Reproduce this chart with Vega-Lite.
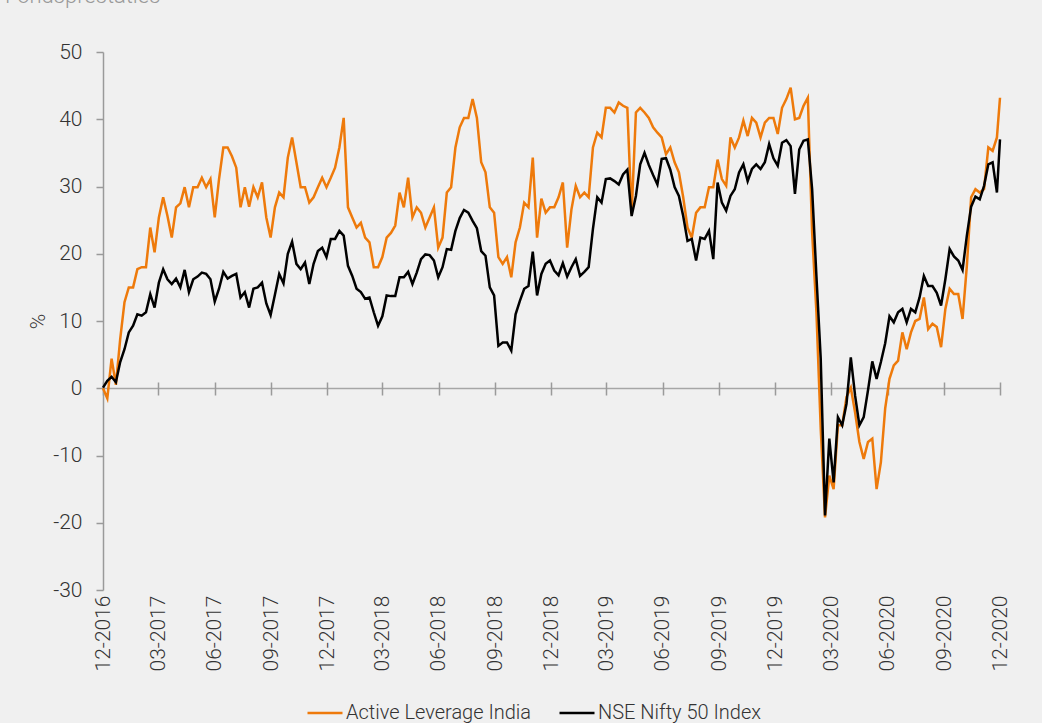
{
  "$schema": "https://vega.github.io/schema/vega-lite/v6.json",
  "width": 897,
  "height": 538,
  "autosize": {"type": "none"},
  "padding": {"left": 103, "top": 52, "right": 42, "bottom": 133},
  "background": "#f0f0f0",
  "title": {"text": "Fondsprestaties", "anchor": "start", "frame": "group", "dx": -98, "dy": -29, "fontSize": 22, "fontWeight": 300, "color": "#9a9a9a"},
  "config": {
    "view": {"stroke": null},
    "font": "Roboto, sans-serif"
  },
  "data": {"values": [
{"date":"2016-12-01","Active Leverage India":0,"NSE Nifty 50 Index":0.1},
{"date":"2016-12-08","Active Leverage India":-1.5,"NSE Nifty 50 Index":1.1},
{"date":"2016-12-15","Active Leverage India":4.4,"NSE Nifty 50 Index":1.7},
{"date":"2016-12-22","Active Leverage India":0.5,"NSE Nifty 50 Index":0.9},
{"date":"2016-12-29","Active Leverage India":7.3,"NSE Nifty 50 Index":3.9},
{"date":"2017-01-05","Active Leverage India":12.8,"NSE Nifty 50 Index":5.8},
{"date":"2017-01-12","Active Leverage India":15,"NSE Nifty 50 Index":8.3},
{"date":"2017-01-19","Active Leverage India":15,"NSE Nifty 50 Index":9.3},
{"date":"2017-01-26","Active Leverage India":17.7,"NSE Nifty 50 Index":11},
{"date":"2017-02-02","Active Leverage India":18,"NSE Nifty 50 Index":10.8},
{"date":"2017-02-09","Active Leverage India":18,"NSE Nifty 50 Index":11.3},
{"date":"2017-02-16","Active Leverage India":23.9,"NSE Nifty 50 Index":14},
{"date":"2017-02-23","Active Leverage India":20.2,"NSE Nifty 50 Index":12},
{"date":"2017-03-02","Active Leverage India":25.4,"NSE Nifty 50 Index":15.7},
{"date":"2017-03-09","Active Leverage India":28.4,"NSE Nifty 50 Index":17.7},
{"date":"2017-03-16","Active Leverage India":25.6,"NSE Nifty 50 Index":16.2},
{"date":"2017-03-23","Active Leverage India":22.4,"NSE Nifty 50 Index":15.5},
{"date":"2017-03-30","Active Leverage India":26.9,"NSE Nifty 50 Index":16.3},
{"date":"2017-04-06","Active Leverage India":27.5,"NSE Nifty 50 Index":15},
{"date":"2017-04-13","Active Leverage India":29.9,"NSE Nifty 50 Index":17.6},
{"date":"2017-04-20","Active Leverage India":26.9,"NSE Nifty 50 Index":14.3},
{"date":"2017-04-27","Active Leverage India":29.9,"NSE Nifty 50 Index":16.2},
{"date":"2017-05-04","Active Leverage India":29.9,"NSE Nifty 50 Index":16.6},
{"date":"2017-05-11","Active Leverage India":31.3,"NSE Nifty 50 Index":17.2},
{"date":"2017-05-18","Active Leverage India":29.9,"NSE Nifty 50 Index":17},
{"date":"2017-05-25","Active Leverage India":31.1,"NSE Nifty 50 Index":16.2},
{"date":"2017-06-01","Active Leverage India":25.4,"NSE Nifty 50 Index":12.9},
{"date":"2017-06-08","Active Leverage India":31.1,"NSE Nifty 50 Index":14.8},
{"date":"2017-06-15","Active Leverage India":35.8,"NSE Nifty 50 Index":17.3},
{"date":"2017-06-22","Active Leverage India":35.8,"NSE Nifty 50 Index":16.3},
{"date":"2017-06-29","Active Leverage India":34.5,"NSE Nifty 50 Index":16.7},
{"date":"2017-07-06","Active Leverage India":32.8,"NSE Nifty 50 Index":17},
{"date":"2017-07-13","Active Leverage India":26.9,"NSE Nifty 50 Index":13.5},
{"date":"2017-07-20","Active Leverage India":29.9,"NSE Nifty 50 Index":14.3},
{"date":"2017-07-27","Active Leverage India":27,"NSE Nifty 50 Index":12},
{"date":"2017-08-03","Active Leverage India":29.9,"NSE Nifty 50 Index":14.8},
{"date":"2017-08-10","Active Leverage India":28.4,"NSE Nifty 50 Index":15},
{"date":"2017-08-17","Active Leverage India":30.6,"NSE Nifty 50 Index":15.7},
{"date":"2017-08-24","Active Leverage India":25.4,"NSE Nifty 50 Index":12.6},
{"date":"2017-08-31","Active Leverage India":22.4,"NSE Nifty 50 Index":10.9},
{"date":"2017-09-07","Active Leverage India":26.9,"NSE Nifty 50 Index":13.9},
{"date":"2017-09-14","Active Leverage India":29.1,"NSE Nifty 50 Index":17},
{"date":"2017-09-21","Active Leverage India":28.4,"NSE Nifty 50 Index":15.6},
{"date":"2017-09-28","Active Leverage India":34.3,"NSE Nifty 50 Index":20},
{"date":"2017-10-05","Active Leverage India":37.3,"NSE Nifty 50 Index":21.8},
{"date":"2017-10-12","Active Leverage India":33.6,"NSE Nifty 50 Index":18.5},
{"date":"2017-10-19","Active Leverage India":29.9,"NSE Nifty 50 Index":17.7},
{"date":"2017-10-26","Active Leverage India":29.9,"NSE Nifty 50 Index":18.7},
{"date":"2017-11-02","Active Leverage India":27.6,"NSE Nifty 50 Index":15.5},
{"date":"2017-11-09","Active Leverage India":28.4,"NSE Nifty 50 Index":18.5},
{"date":"2017-11-16","Active Leverage India":29.9,"NSE Nifty 50 Index":20.4},
{"date":"2017-11-23","Active Leverage India":31.3,"NSE Nifty 50 Index":20.9},
{"date":"2017-11-30","Active Leverage India":29.9,"NSE Nifty 50 Index":19.5},
{"date":"2017-12-07","Active Leverage India":31.3,"NSE Nifty 50 Index":22.2},
{"date":"2017-12-14","Active Leverage India":32.8,"NSE Nifty 50 Index":22.2},
{"date":"2017-12-21","Active Leverage India":35.8,"NSE Nifty 50 Index":23.4},
{"date":"2017-12-28","Active Leverage India":40.2,"NSE Nifty 50 Index":22.7},
{"date":"2018-01-04","Active Leverage India":26.9,"NSE Nifty 50 Index":18.2},
{"date":"2018-01-11","Active Leverage India":25.4,"NSE Nifty 50 Index":16.7},
{"date":"2018-01-18","Active Leverage India":23.9,"NSE Nifty 50 Index":14.8},
{"date":"2018-01-25","Active Leverage India":24.6,"NSE Nifty 50 Index":14.3},
{"date":"2018-02-01","Active Leverage India":22.4,"NSE Nifty 50 Index":13.3},
{"date":"2018-02-08","Active Leverage India":21.7,"NSE Nifty 50 Index":13.5},
{"date":"2018-02-15","Active Leverage India":18,"NSE Nifty 50 Index":11.3},
{"date":"2018-02-22","Active Leverage India":18,"NSE Nifty 50 Index":9.3},
{"date":"2018-03-01","Active Leverage India":19.5,"NSE Nifty 50 Index":10.7},
{"date":"2018-03-08","Active Leverage India":22.4,"NSE Nifty 50 Index":13.8},
{"date":"2018-03-15","Active Leverage India":23.1,"NSE Nifty 50 Index":13.7},
{"date":"2018-03-22","Active Leverage India":24.2,"NSE Nifty 50 Index":13.7},
{"date":"2018-03-29","Active Leverage India":29.1,"NSE Nifty 50 Index":16.5},
{"date":"2018-04-05","Active Leverage India":26.9,"NSE Nifty 50 Index":16.5},
{"date":"2018-04-12","Active Leverage India":31.3,"NSE Nifty 50 Index":17.3},
{"date":"2018-04-19","Active Leverage India":25.4,"NSE Nifty 50 Index":15.5},
{"date":"2018-04-26","Active Leverage India":26.9,"NSE Nifty 50 Index":17.2},
{"date":"2018-05-03","Active Leverage India":26.1,"NSE Nifty 50 Index":19.2},
{"date":"2018-05-10","Active Leverage India":23.9,"NSE Nifty 50 Index":19.9},
{"date":"2018-05-17","Active Leverage India":25.4,"NSE Nifty 50 Index":19.8},
{"date":"2018-05-24","Active Leverage India":26.9,"NSE Nifty 50 Index":19},
{"date":"2018-05-31","Active Leverage India":20.9,"NSE Nifty 50 Index":16.5},
{"date":"2018-06-07","Active Leverage India":22.4,"NSE Nifty 50 Index":18},
{"date":"2018-06-14","Active Leverage India":29.1,"NSE Nifty 50 Index":20.7},
{"date":"2018-06-21","Active Leverage India":29.9,"NSE Nifty 50 Index":20.6},
{"date":"2018-06-28","Active Leverage India":35.8,"NSE Nifty 50 Index":23.4},
{"date":"2018-07-05","Active Leverage India":38.8,"NSE Nifty 50 Index":25.3},
{"date":"2018-07-12","Active Leverage India":40.2,"NSE Nifty 50 Index":26.5},
{"date":"2018-07-19","Active Leverage India":40.2,"NSE Nifty 50 Index":26.1},
{"date":"2018-07-26","Active Leverage India":43,"NSE Nifty 50 Index":24.9},
{"date":"2018-08-02","Active Leverage India":40.2,"NSE Nifty 50 Index":23.8},
{"date":"2018-08-09","Active Leverage India":33.6,"NSE Nifty 50 Index":20.4},
{"date":"2018-08-16","Active Leverage India":32.1,"NSE Nifty 50 Index":19.7},
{"date":"2018-08-23","Active Leverage India":26.9,"NSE Nifty 50 Index":15},
{"date":"2018-08-30","Active Leverage India":26.1,"NSE Nifty 50 Index":13.8},
{"date":"2018-09-06","Active Leverage India":19.5,"NSE Nifty 50 Index":6.3},
{"date":"2018-09-13","Active Leverage India":18.5,"NSE Nifty 50 Index":6.8},
{"date":"2018-09-20","Active Leverage India":19.5,"NSE Nifty 50 Index":6.8},
{"date":"2018-09-27","Active Leverage India":16.5,"NSE Nifty 50 Index":5.6},
{"date":"2018-10-04","Active Leverage India":21.7,"NSE Nifty 50 Index":11},
{"date":"2018-10-11","Active Leverage India":23.9,"NSE Nifty 50 Index":13},
{"date":"2018-10-18","Active Leverage India":27.6,"NSE Nifty 50 Index":14.8},
{"date":"2018-10-25","Active Leverage India":26.9,"NSE Nifty 50 Index":15.2},
{"date":"2018-11-01","Active Leverage India":34.3,"NSE Nifty 50 Index":20.3},
{"date":"2018-11-08","Active Leverage India":22.4,"NSE Nifty 50 Index":13.8},
{"date":"2018-11-15","Active Leverage India":28.2,"NSE Nifty 50 Index":17},
{"date":"2018-11-22","Active Leverage India":26.1,"NSE Nifty 50 Index":18.5},
{"date":"2018-11-29","Active Leverage India":26.9,"NSE Nifty 50 Index":19},
{"date":"2018-12-06","Active Leverage India":26.9,"NSE Nifty 50 Index":17.5},
{"date":"2018-12-13","Active Leverage India":28.4,"NSE Nifty 50 Index":16.8},
{"date":"2018-12-20","Active Leverage India":30.6,"NSE Nifty 50 Index":18.6},
{"date":"2018-12-27","Active Leverage India":20.9,"NSE Nifty 50 Index":16.6},
{"date":"2019-01-03","Active Leverage India":26.6,"NSE Nifty 50 Index":18},
{"date":"2019-01-10","Active Leverage India":30.1,"NSE Nifty 50 Index":19.2},
{"date":"2019-01-17","Active Leverage India":28.4,"NSE Nifty 50 Index":16.7},
{"date":"2019-01-24","Active Leverage India":29.1,"NSE Nifty 50 Index":17.3},
{"date":"2019-01-31","Active Leverage India":28.4,"NSE Nifty 50 Index":18},
{"date":"2019-02-07","Active Leverage India":35.8,"NSE Nifty 50 Index":23.7},
{"date":"2019-02-14","Active Leverage India":38,"NSE Nifty 50 Index":28.4},
{"date":"2019-02-21","Active Leverage India":37.3,"NSE Nifty 50 Index":27.6},
{"date":"2019-02-28","Active Leverage India":41.7,"NSE Nifty 50 Index":31.1},
{"date":"2019-03-07","Active Leverage India":41.7,"NSE Nifty 50 Index":31.2},
{"date":"2019-03-14","Active Leverage India":41,"NSE Nifty 50 Index":30.8},
{"date":"2019-03-21","Active Leverage India":42.5,"NSE Nifty 50 Index":30.3},
{"date":"2019-03-28","Active Leverage India":42,"NSE Nifty 50 Index":31.8},
{"date":"2019-04-04","Active Leverage India":41.7,"NSE Nifty 50 Index":32.5},
{"date":"2019-04-11","Active Leverage India":25.9,"NSE Nifty 50 Index":25.6},
{"date":"2019-04-18","Active Leverage India":41,"NSE Nifty 50 Index":28.6},
{"date":"2019-04-25","Active Leverage India":41.7,"NSE Nifty 50 Index":33.3},
{"date":"2019-05-02","Active Leverage India":41,"NSE Nifty 50 Index":35},
{"date":"2019-05-09","Active Leverage India":40.2,"NSE Nifty 50 Index":33.2},
{"date":"2019-05-16","Active Leverage India":38.8,"NSE Nifty 50 Index":31.7},
{"date":"2019-05-23","Active Leverage India":38,"NSE Nifty 50 Index":30.3},
{"date":"2019-05-30","Active Leverage India":37.3,"NSE Nifty 50 Index":34.1},
{"date":"2019-06-06","Active Leverage India":34.8,"NSE Nifty 50 Index":34.2},
{"date":"2019-06-13","Active Leverage India":35.8,"NSE Nifty 50 Index":32.5},
{"date":"2019-06-20","Active Leverage India":33.6,"NSE Nifty 50 Index":29.9},
{"date":"2019-06-27","Active Leverage India":32.1,"NSE Nifty 50 Index":28.6},
{"date":"2019-07-04","Active Leverage India":28.4,"NSE Nifty 50 Index":25.6},
{"date":"2019-07-11","Active Leverage India":23.9,"NSE Nifty 50 Index":21.9},
{"date":"2019-07-18","Active Leverage India":22.4,"NSE Nifty 50 Index":22.2},
{"date":"2019-07-25","Active Leverage India":26.1,"NSE Nifty 50 Index":19},
{"date":"2019-08-01","Active Leverage India":26.9,"NSE Nifty 50 Index":22.4},
{"date":"2019-08-08","Active Leverage India":26.9,"NSE Nifty 50 Index":22.2},
{"date":"2019-08-15","Active Leverage India":29.9,"NSE Nifty 50 Index":23.4},
{"date":"2019-08-22","Active Leverage India":29.9,"NSE Nifty 50 Index":19.2},
{"date":"2019-08-29","Active Leverage India":34,"NSE Nifty 50 Index":30.6},
{"date":"2019-09-05","Active Leverage India":31.1,"NSE Nifty 50 Index":27.6},
{"date":"2019-09-12","Active Leverage India":30.1,"NSE Nifty 50 Index":26.4},
{"date":"2019-09-19","Active Leverage India":37.3,"NSE Nifty 50 Index":28.6},
{"date":"2019-09-26","Active Leverage India":35.8,"NSE Nifty 50 Index":29.6},
{"date":"2019-10-03","Active Leverage India":37.3,"NSE Nifty 50 Index":32.1},
{"date":"2019-10-10","Active Leverage India":39.8,"NSE Nifty 50 Index":33.3},
{"date":"2019-10-17","Active Leverage India":37.5,"NSE Nifty 50 Index":30.8},
{"date":"2019-10-24","Active Leverage India":40.2,"NSE Nifty 50 Index":32.6},
{"date":"2019-10-31","Active Leverage India":39.5,"NSE Nifty 50 Index":33.3},
{"date":"2019-11-07","Active Leverage India":37.3,"NSE Nifty 50 Index":32.6},
{"date":"2019-11-14","Active Leverage India":39.5,"NSE Nifty 50 Index":33.6},
{"date":"2019-11-21","Active Leverage India":40.2,"NSE Nifty 50 Index":36.3},
{"date":"2019-11-28","Active Leverage India":40.2,"NSE Nifty 50 Index":34.2},
{"date":"2019-12-05","Active Leverage India":37.8,"NSE Nifty 50 Index":33.1},
{"date":"2019-12-12","Active Leverage India":41.7,"NSE Nifty 50 Index":36.5},
{"date":"2019-12-19","Active Leverage India":43,"NSE Nifty 50 Index":36.9},
{"date":"2019-12-26","Active Leverage India":44.7,"NSE Nifty 50 Index":36},
{"date":"2020-01-02","Active Leverage India":40,"NSE Nifty 50 Index":28.9},
{"date":"2020-01-09","Active Leverage India":40.2,"NSE Nifty 50 Index":35.5},
{"date":"2020-01-16","Active Leverage India":42,"NSE Nifty 50 Index":36.8},
{"date":"2020-01-23","Active Leverage India":43.2,"NSE Nifty 50 Index":37},
{"date":"2020-01-30","Active Leverage India":23.2,"NSE Nifty 50 Index":29.6},
{"date":"2020-02-06","Active Leverage India":11.3,"NSE Nifty 50 Index":16.7},
{"date":"2020-02-13","Active Leverage India":-6,"NSE Nifty 50 Index":4.4},
{"date":"2020-02-20","Active Leverage India":-19.2,"NSE Nifty 50 Index":-18.9},
{"date":"2020-02-27","Active Leverage India":-13,"NSE Nifty 50 Index":-7.5},
{"date":"2020-03-05","Active Leverage India":-15,"NSE Nifty 50 Index":-14},
{"date":"2020-03-12","Active Leverage India":-5.5,"NSE Nifty 50 Index":-4.3},
{"date":"2020-03-19","Active Leverage India":-5.5,"NSE Nifty 50 Index":-5.5},
{"date":"2020-03-26","Active Leverage India":-1.3,"NSE Nifty 50 Index":-2.3},
{"date":"2020-04-02","Active Leverage India":0.1,"NSE Nifty 50 Index":4.6},
{"date":"2020-04-09","Active Leverage India":-3.6,"NSE Nifty 50 Index":-1.1},
{"date":"2020-04-16","Active Leverage India":-8,"NSE Nifty 50 Index":-5.5},
{"date":"2020-04-23","Active Leverage India":-10.5,"NSE Nifty 50 Index":-4.3},
{"date":"2020-04-30","Active Leverage India":-8,"NSE Nifty 50 Index":-0.3},
{"date":"2020-05-07","Active Leverage India":-7.5,"NSE Nifty 50 Index":4},
{"date":"2020-05-14","Active Leverage India":-15,"NSE Nifty 50 Index":1.4},
{"date":"2020-05-21","Active Leverage India":-11,"NSE Nifty 50 Index":3.9},
{"date":"2020-05-28","Active Leverage India":-3,"NSE Nifty 50 Index":6.7},
{"date":"2020-06-04","Active Leverage India":1.4,"NSE Nifty 50 Index":10.7},
{"date":"2020-06-11","Active Leverage India":3.4,"NSE Nifty 50 Index":9.8},
{"date":"2020-06-18","Active Leverage India":4.1,"NSE Nifty 50 Index":11.3},
{"date":"2020-06-25","Active Leverage India":8.3,"NSE Nifty 50 Index":11.8},
{"date":"2020-07-02","Active Leverage India":5.8,"NSE Nifty 50 Index":9.8},
{"date":"2020-07-09","Active Leverage India":8.3,"NSE Nifty 50 Index":11.8},
{"date":"2020-07-16","Active Leverage India":10,"NSE Nifty 50 Index":11.3},
{"date":"2020-07-23","Active Leverage India":10.3,"NSE Nifty 50 Index":13.5},
{"date":"2020-07-30","Active Leverage India":13.5,"NSE Nifty 50 Index":16.7},
{"date":"2020-08-06","Active Leverage India":8.8,"NSE Nifty 50 Index":15.2},
{"date":"2020-08-13","Active Leverage India":9.6,"NSE Nifty 50 Index":15.2},
{"date":"2020-08-20","Active Leverage India":9.1,"NSE Nifty 50 Index":14.2},
{"date":"2020-08-27","Active Leverage India":6.1,"NSE Nifty 50 Index":12.3},
{"date":"2020-09-03","Active Leverage India":11.8,"NSE Nifty 50 Index":16.2},
{"date":"2020-09-10","Active Leverage India":14.8,"NSE Nifty 50 Index":20.7},
{"date":"2020-09-17","Active Leverage India":14,"NSE Nifty 50 Index":19.6},
{"date":"2020-09-24","Active Leverage India":14,"NSE Nifty 50 Index":19},
{"date":"2020-10-01","Active Leverage India":10.3,"NSE Nifty 50 Index":17.6},
{"date":"2020-10-08","Active Leverage India":18.2,"NSE Nifty 50 Index":22.7},
{"date":"2020-10-15","Active Leverage India":28.4,"NSE Nifty 50 Index":27},
{"date":"2020-10-22","Active Leverage India":29.6,"NSE Nifty 50 Index":28.5},
{"date":"2020-10-29","Active Leverage India":29.1,"NSE Nifty 50 Index":28.1},
{"date":"2020-11-05","Active Leverage India":29.6,"NSE Nifty 50 Index":30.1},
{"date":"2020-11-12","Active Leverage India":35.8,"NSE Nifty 50 Index":33.3},
{"date":"2020-11-19","Active Leverage India":35.3,"NSE Nifty 50 Index":33.6},
{"date":"2020-11-26","Active Leverage India":37.3,"NSE Nifty 50 Index":29.1},
{"date":"2020-12-01","Active Leverage India":43.2,"NSE Nifty 50 Index":37}
  ]},
  "transform": [{"fold": ["Active Leverage India", "NSE Nifty 50 Index"], "as": ["series", "value"]}],
  "mark": {"type": "line", "strokeWidth": 2.5},
  "encoding": {
    "x": {
      "field": "date", "type": "temporal",
      "scale": {"type": "utc", "domain": [{"year": 2016, "month": 12, "date": 1, "utc": true}, {"year": 2020, "month": 12, "date": 1, "utc": true}]},
      "axis": {
        "values": [
          {"year": 2016, "month": 12, "date": 1, "utc": true},
          {"year": 2017, "month": 3, "date": 1, "utc": true},
          {"year": 2017, "month": 6, "date": 1, "utc": true},
          {"year": 2017, "month": 9, "date": 1, "utc": true},
          {"year": 2017, "month": 12, "date": 1, "utc": true},
          {"year": 2018, "month": 3, "date": 1, "utc": true},
          {"year": 2018, "month": 6, "date": 1, "utc": true},
          {"year": 2018, "month": 9, "date": 1, "utc": true},
          {"year": 2018, "month": 12, "date": 1, "utc": true},
          {"year": 2019, "month": 3, "date": 1, "utc": true},
          {"year": 2019, "month": 6, "date": 1, "utc": true},
          {"year": 2019, "month": 9, "date": 1, "utc": true},
          {"year": 2019, "month": 12, "date": 1, "utc": true},
          {"year": 2020, "month": 3, "date": 1, "utc": true},
          {"year": 2020, "month": 6, "date": 1, "utc": true},
          {"year": 2020, "month": 9, "date": 1, "utc": true},
          {"year": 2020, "month": 12, "date": 1, "utc": true}
        ],
        "format": "%m-%Y",
        "labelAngle": 270,
        "labelFlush": false,
        "labelOverlap": false,
        "domain": false,
        "grid": false,
        "offset": -195,
        "tickSize": -13,
        "tickColor": "#9a9a9a",
        "tickWidth": 1.5,
        "labelPadding": 213,
        "labelFontSize": 21,
        "labelFontWeight": 300,
        "labelColor": "#333333",
        "title": null
      }
    },
    "y": {
      "field": "value", "type": "quantitative",
      "scale": {"domain": [-30, 50], "nice": false, "zero": false},
      "axis": {
        "values": [-30, -20, -10, 0, 10, 20, 30, 40, 50],
        "labelExpr": "'' + datum.value",
        "domainColor": "#9a9a9a",
        "domainWidth": 1.5,
        "tickColor": "#9a9a9a",
        "tickWidth": 1.5,
        "tickSize": 7,
        "labelPadding": 14,
        "labelFontSize": 21,
        "labelFontWeight": 300,
        "labelColor": "#333333",
        "grid": true,
        "gridColor": "#a6a6a6",
        "gridWidth": 1.5,
        "gridOpacity": {"condition": {"test": "datum.value === 0", "value": 1}, "value": 0},
        "title": "%",
        "titleFontSize": 21,
        "titleFontWeight": 300,
        "titleColor": "#333333",
        "titlePadding": 4
      }
    },
    "color": {
      "field": "series", "type": "nominal",
      "scale": {"domain": ["Active Leverage India", "NSE Nifty 50 Index"], "range": ["#ee7a0b", "#000000"]},
      "legend": {
        "title": null,
        "orient": "none",
        "legendX": 203,
        "legendY": 642,
        "direction": "horizontal",
        "symbolType": "stroke",
        "symbolSize": 1225,
        "symbolStrokeWidth": 2.5,
        "labelFontSize": 20,
        "labelFontWeight": 300,
        "labelColor": "#333333",
        "labelLimit": 0,
        "labelOffset": 2,
        "columnPadding": 22
      }
    }
  }
}
